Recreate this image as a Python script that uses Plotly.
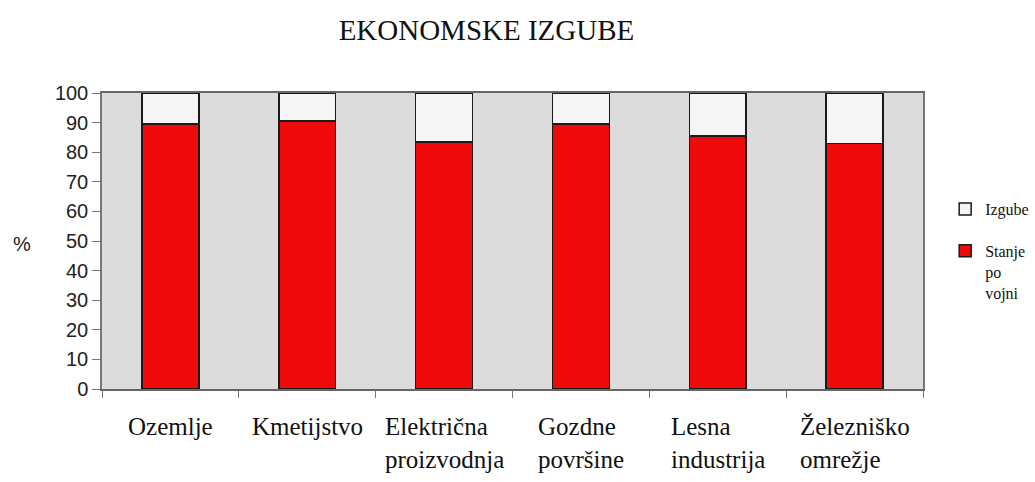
import plotly.graph_objects as go

categories = ["Ozemlje", "Kmetijstvo", "Električna<br>proizvodnja", "Gozdne<br>površine",
              "Lesna<br>industrija", "Železniško<br>omrežje"]
stanje_po_vojni = [89.5, 90.5, 83.5, 89.5, 85.5, 83.0]
izgube = [10.5, 9.5, 16.5, 10.5, 14.5, 17.0]
y_ticks = [0, 10, 20, 30, 40, 50, 60, 70, 80, 90, 100]

serif = "Liberation Serif, Times New Roman, serif"
sans = "Liberation Sans, Arial, sans-serif"

fig = go.Figure()
fig.add_trace(go.Bar(
    x=categories, y=stanje_po_vojni, name="Stanje<br>po<br>vojni",
    marker=dict(color="#f00a0a", line=dict(color="#1a1a1a", width=1.5)),
    legendgroup="b", legendrank=2,
))
fig.add_trace(go.Bar(
    x=categories, y=izgube, name="Izgube",
    marker=dict(color="#f5f5f5", line=dict(color="#1a1a1a", width=1.5)),
    legendgroup="a", legendrank=1,
))

annotations = [
    dict(x=c, y=-0.075, xref="x", yref="paper", text=c, showarrow=False,
         xanchor="center", yanchor="top", align="left",
         font=dict(family=serif, size=25, color="#111"))
    for c in categories
]
annotations.append(dict(x=-0.097, y=0.49, xref="paper", yref="paper", text="%",
                        showarrow=False, xanchor="center", yanchor="middle",
                        font=dict(family=sans, size=20, color="#222")))

fig.update_layout(
    width=1035, height=482,
    barmode="stack", bargap=0.584,
    paper_bgcolor="white", plot_bgcolor="#dcdcdc",
    margin=dict(l=102, r=112, t=93, b=93, autoexpand=False),
    title=dict(text="EKONOMSKE IZGUBE", x=0.47, xanchor="center", xref="container",
               y=1 - 30 / 482, yanchor="middle",
               font=dict(family=serif, size=29, color="#111")),
    showlegend=True,
    legend=dict(x=1.027, xanchor="left", y=0.665, yanchor="top",
                traceorder="grouped", tracegroupgap=18, valign="top",
                font=dict(family=serif, size=16, color="#111"),
                itemwidth=30, bgcolor="rgba(0,0,0,0)"),
    annotations=annotations,
)
fig.update_xaxes(showticklabels=False, tickson="boundaries", ticks="outside",
                 ticklen=7, tickcolor="#777", showline=True, linecolor="#666",
                 linewidth=1.5, mirror=True, showgrid=False)
fig.update_yaxes(range=[0, 100], tickvals=y_ticks, ticks="outside", ticklen=8,
                 tickcolor="#777", showline=True, linecolor="#777", linewidth=1.5,
                 mirror=True, showgrid=False, zeroline=False,
                 tickfont=dict(family=sans, size=20, color="#222"))

fig.write_html("out.html", config={"displayModeBar": False},
               post_script="document.body.style.margin='0';")
